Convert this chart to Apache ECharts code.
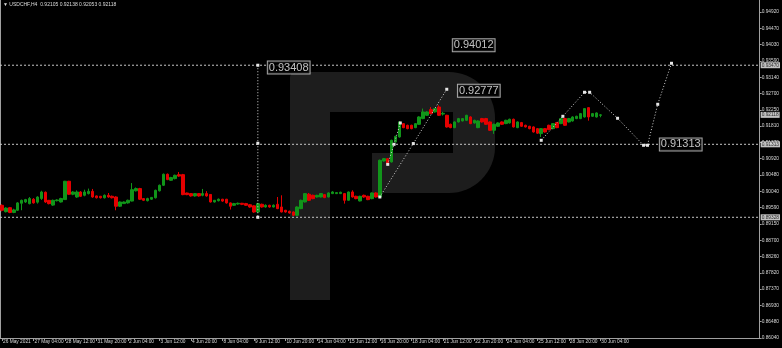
<!DOCTYPE html>
<html><head><meta charset="utf-8">
<script src="https://cdn.jsdelivr.net/npm/echarts@6/dist/echarts.min.js"></script>
<style>html,body{margin:0;padding:0;background:#000;}#c{width:782px;height:348px;}</style>
</head><body><div id="c"></div>
<script>
// ---- tick labels ----
const timeTickLabels = ['26 May 2021','27 May 04:00','28 May 12:00','31 May 20:00','2 Jun 04:00','3 Jun 12:00','4 Jun 20:00','8 Jun 04:00','9 Jun 12:00','10 Jun 20:00','14 Jun 04:00','15 Jun 12:00','16 Jun 20:00','18 Jun 04:00','21 Jun 12:00','22 Jun 20:00','24 Jun 04:00','25 Jun 12:00','28 Jun 20:00','30 Jun 04:00'];
const barsPerTimeTick = 8;
const totalSlots = 193;
const priceTickLabels = ['0.86040','0.86480','0.86930','0.87370','0.87820','0.88260','0.88700','0.89150','0.89590','0.90040','0.90480','0.90920','0.91370','0.91810','0.92250','0.92700','0.93140','0.93590','0.94030','0.94470','0.94920'];
const priceTickBase = 0.86040;
const priceTickStep = 0.00444;
const priceTop = 0.952468;

// ---- candles (H4) ----
const opens = [
0.89655,0.89480,0.89590,0.89460,0.89520,0.89710,0.89745,0.89700,0.89820,0.89740,
0.89840,0.90010,0.89790,0.89660,0.89780,0.89745,0.89810,0.90310,0.89955,0.89881,
0.90017,0.89927,0.89973,0.90035,0.89910,0.89900,0.89860,0.89927,0.89900,0.89881,
0.89630,0.89701,0.89720,0.89770,0.90050,0.90110,0.89837,0.89780,0.89820,0.89860,
0.90050,0.90200,0.90500,0.90336,0.90382,0.90490,0.90490,0.89990,0.89973,0.89910,
0.89973,0.89927,0.89973,0.89950,0.89745,0.89780,0.89820,0.89820,0.89720,0.89655,
0.89690,0.89710,0.89701,0.89670,0.89640,0.89472,0.89682,0.89609,0.89655,0.89609,
0.89682,0.89609,0.89519,0.89491,0.89473,0.89382,0.89564,0.89746,0.89955,0.89927,
0.89881,0.89881,0.89945,0.89881,0.89973,0.89973,0.89973,0.89973,0.89791,0.90018,
0.89900,0.89773,0.89927,0.89900,0.89836,0.89991,0.89881,0.90863,0.90926,0.90835,
0.91380,0.91516,0.91879,0.91834,0.91834,0.91770,0.91861,0.92016,0.92106,0.92261,
0.92197,0.92333,0.92140,0.92106,0.91861,0.91770,0.91925,0.91952,0.91970,0.92061,
0.91897,0.91770,0.92016,0.92016,0.91925,0.91698,0.91807,0.91925,0.91880,0.91898,
0.91998,0.91770,0.91907,0.91834,0.91807,0.91789,0.91743,0.91607,0.91743,0.91834,
0.91743,0.91907,0.91880,0.92016,0.91925,0.91952,0.92016,0.92016,0.92061,0.92315,
0.92079,0.92061,0.92105];
const closes = [
0.89519,0.89580,0.89460,0.89530,0.89720,0.89790,0.89810,0.89840,0.89720,0.89880,
0.90017,0.89745,0.89700,0.89790,0.89800,0.89840,0.90310,0.89955,0.90017,0.90017,
0.89900,0.90017,0.90035,0.89881,0.89860,0.89860,0.89927,0.89881,0.89860,0.89630,
0.89745,0.89745,0.89791,0.90080,0.90110,0.89820,0.89791,0.89837,0.89870,0.90063,
0.90200,0.90500,0.90355,0.90410,0.90472,0.90450,0.89945,0.89945,0.89910,0.89973,
0.89910,0.89973,0.89910,0.89745,0.89791,0.89820,0.89770,0.89720,0.89630,0.89701,
0.89710,0.89680,0.89655,0.89608,0.89472,0.89700,0.89609,0.89655,0.89609,0.89655,
0.89564,0.89473,0.89473,0.89446,0.89382,0.89609,0.89791,0.89973,0.89791,0.89836,
0.89927,0.89973,0.89864,0.89991,0.90018,0.90000,0.90009,0.89791,0.90018,0.89881,
0.89836,0.89900,0.89881,0.89809,0.89991,0.89881,0.90881,0.90926,0.90772,0.91425,
0.91534,0.91925,0.91770,0.91743,0.91743,0.91879,0.92061,0.92197,0.92197,0.92152,
0.92288,0.92106,0.92160,0.91789,0.91770,0.91925,0.92016,0.92016,0.92106,0.91879,
0.91970,0.91952,0.91925,0.91861,0.91698,0.91861,0.91898,0.91861,0.91970,0.91998,
0.91789,0.91925,0.91807,0.91789,0.91743,0.91652,0.91620,0.91743,0.91652,0.91716,
0.91880,0.91770,0.92016,0.91834,0.92016,0.92061,0.92079,0.92152,0.92288,0.92061,
0.92152,0.92170,0.92118];
const lows = [
0.89490,0.89460,0.89440,0.89440,0.89500,0.89520,0.89720,0.89680,0.89700,0.89700,
0.89800,0.89720,0.89680,0.89640,0.89760,0.89730,0.89800,0.89940,0.89930,0.89860,
0.89880,0.89900,0.89950,0.89860,0.89840,0.89840,0.89840,0.89860,0.89840,0.89519,
0.89610,0.89690,0.89700,0.89760,0.90030,0.89800,0.89770,0.89760,0.89800,0.89840,
0.90030,0.90180,0.90340,0.90320,0.90360,0.90430,0.89930,0.89930,0.89890,0.89890,
0.89890,0.89900,0.89890,0.89730,0.89730,0.89760,0.89750,0.89700,0.89540,0.89640,
0.89670,0.89660,0.89640,0.89590,0.89450,0.89450,0.89590,0.89590,0.89590,0.89595,
0.89550,0.89460,0.89455,0.89430,0.89365,0.89365,0.89550,0.89730,0.89780,0.89820,
0.89865,0.89870,0.89850,0.89870,0.89960,0.89960,0.89960,0.89700,0.89780,0.89865,
0.89820,0.89760,0.89860,0.89795,0.89820,0.89865,0.89865,0.90845,0.90755,0.90820,
0.91365,0.91500,0.91755,0.91725,0.91725,0.91755,0.91845,0.92000,0.92090,0.92135,
0.92180,0.92090,0.92100,0.91770,0.91755,0.91755,0.91910,0.91940,0.91955,0.91865,
0.91880,0.91755,0.91910,0.91845,0.91680,0.91600,0.91790,0.91845,0.91865,0.91880,
0.91775,0.91755,0.91790,0.91775,0.91725,0.91635,0.91600,0.91516,0.91635,0.91700,
0.91725,0.91755,0.91865,0.91820,0.91910,0.91935,0.92000,0.92000,0.92045,0.91960,
0.92060,0.92045,0.92053];
const highs = [
0.89680,0.89600,0.89610,0.89560,0.89740,0.89810,0.89830,0.89880,0.89850,0.89900,
0.90050,0.90030,0.89800,0.89810,0.89820,0.89860,0.90320,0.90320,0.90040,0.90060,
0.90040,0.90080,0.90110,0.90100,0.89920,0.89910,0.89950,0.89990,0.89920,0.89900,
0.89760,0.89760,0.89810,0.90260,0.90140,0.90130,0.89850,0.89860,0.89880,0.90080,
0.90220,0.90520,0.90520,0.90430,0.90490,0.90560,0.90510,0.90000,0.89990,0.89990,
0.89990,0.90100,0.90040,0.89960,0.89800,0.89840,0.89830,0.89830,0.89730,0.89720,
0.89730,0.89720,0.89720,0.89690,0.89655,0.89720,0.89700,0.89680,0.89670,0.89680,
0.89881,0.89927,0.89530,0.89510,0.89490,0.89625,0.89810,0.89990,0.89990,0.89945,
0.89940,0.89990,0.89960,0.90010,0.90040,0.90015,0.90025,0.89990,0.90030,0.90063,
0.89915,0.89915,0.89945,0.89915,0.90005,0.90010,0.90900,0.90945,0.90940,0.91440,
0.91550,0.91945,0.91895,0.91850,0.91850,0.91895,0.92080,0.92290,0.92215,0.92330,
0.92300,0.92380,0.92200,0.92120,0.91880,0.91940,0.92035,0.92030,0.92120,0.92080,
0.91985,0.91970,0.92035,0.92035,0.91940,0.91880,0.91915,0.91940,0.91985,0.92015,
0.92015,0.91940,0.91925,0.91850,0.91820,0.91805,0.91760,0.91760,0.91760,0.91850,
0.91895,0.91925,0.92035,0.92035,0.92035,0.92080,0.92095,0.92170,0.92300,0.92330,
0.92170,0.92185,0.92138];

// ---- annotations (bar index, price) ----
const levelValues = [0.93470, 0.91316, 0.89328];
const levelLabels = ['0.93470', '0.91313', '0.89328'];
const lastPrice = 0.92118;
const lastPriceLabel = '0.92118';
const rangeIdx = [65, 65, 65];
const rangeVal = [0.93470, 0.91344, 0.89328];
const impulseIdx = [96, 104.5, 113];
const impulseVal = [0.89881, 0.91336, 0.92815];
const waveIdx = [98, 99.6, 101.2];
const waveVal = [0.90770, 0.91316, 0.91897];
const forecastIdx = [137, 142.5, 148, 149.3, 156.4, 163, 164, 166.6, 170.1];
const forecastVal = [0.91425, 0.92079, 0.92733, 0.92733, 0.92025, 0.91289, 0.91289, 0.92406, 0.93523];
const noteText = ['0.93408', '0.94012', '0.92777', '0.91313'];
const noteIdx = [65, 112, 113.3, 164.6];
const noteVal = [0.93408, 0.94012, 0.92777, 0.91313];
const titleText = '\u25BC USDCHF,H4  0.92105 0.92138 0.92053 0.92118';

// ---- build ----
const categories = [];
for (let i = 0; i < totalSlots; i++) {
  categories.push(i % barsPerTimeTick === 0 && timeTickLabels[i / barsPerTimeTick] ? timeTickLabels[i / barsPerTimeTick] : '');
}
const candleData = opens.map((o, i) => [o, closes[i], lows[i], highs[i]]);
const pairs = (xs, ys) => xs.map((x, i) => [x, ys[i]]);
const tickIdx = priceTickLabels.map((_, i) => i);
const isTimeTick = (i) => i % barsPerTimeTick === 0 && i / barsPerTimeTick < timeTickLabels.length;
const xLeft = -0.5, xRight = totalSlots - 0.5;

const dotted = { color: '#d4d4d4', width: 1, type: [1, 2] };
const levelStyle = { color: '#c8c8c8', width: 1, type: [2, 2] };
const marker = { color: '#e6e6e6' };
const FONT = 'Liberation Sans';

const levelSeries = levelValues.map((v) => ({
  type: 'line', xAxisIndex: 1, yAxisIndex: 0, data: [[xLeft, v], [xRight, v]],
  symbol: 'none', lineStyle: levelStyle, z: 4, silent: true
}));
const tagValues = levelValues.concat([lastPrice]);
const tagTexts = levelLabels.concat([lastPriceLabel]);

const chart = echarts.init(document.getElementById('c'), null, { renderer: 'canvas' });
chart.setOption({
  backgroundColor: '#000',
  animation: false,
  grid: { left: 0, right: 22, top: 0, bottom: 10 },
  xAxis: [{
    type: 'category', data: categories, boundaryGap: true,
    axisLine: { show: true, lineStyle: { color: '#a0a0a0', width: 1 } },
    axisTick: { show: true, alignWithLabel: true, interval: (i) => isTimeTick(i), length: 3, lineStyle: { color: '#a0a0a0' } },
    axisLabel: { interval: (i) => isTimeTick(i), color: '#d8d8d8', fontSize: 4.8, fontFamily: FONT, align: 'left', margin: 1, padding: [0, 0, 0, 1] },
    splitLine: { show: false }
  }, {
    type: 'value', min: xLeft, max: xRight, show: false
  }],
  yAxis: [{
    type: 'value', position: 'right', min: priceTickBase, max: priceTop, show: false
  }, {
    type: 'value', position: 'right', offset: 0, min: 0, max: (priceTop - priceTickBase) / priceTickStep,
    axisLine: { show: true, lineStyle: { color: '#a0a0a0', width: 1 } },
    axisTick: { show: true, length: 2, customValues: tickIdx, lineStyle: { color: '#a0a0a0' } },
    axisLabel: { show: true, customValues: tickIdx, color: '#d8d8d8', fontSize: 4.8, fontFamily: FONT, margin: 2,
      formatter: (v) => (Number.isInteger(v) && priceTickLabels[v]) ? priceTickLabels[v] : '' },
    splitLine: { show: false }
  }],
  graphic: [
    { type: 'group', z: -10, silent: true, children: [
      { type: 'rect', shape: { x: 290, y: 72, width: 205, height: 121, r: [6, 46, 46, 0] }, style: { fill: '#1d1d1d' } },
      { type: 'rect', shape: { x: 290, y: 72, width: 40, height: 228, r: [6, 0, 0, 0] }, style: { fill: '#1d1d1d' } },
      { type: 'rect', shape: { x: 330, y: 112, width: 123, height: 41 }, style: { fill: '#000' } },
      { type: 'rect', shape: { x: 330, y: 153, width: 42, height: 40 }, style: { fill: '#000' } }
    ]},
    { type: 'line', shape: { x1: 0.5, y1: 0, x2: 0.5, y2: 338 }, style: { stroke: '#a0a0a0', lineWidth: 1 }, silent: true },
    { type: 'text', left: 3, top: 2, style: { text: titleText, fill: '#dcdcdc', font: '5px "Liberation Sans", "DejaVu Sans"' }, silent: true }
  ],
  series: [{
    type: 'candlestick', name: 'USDCHF', xAxisIndex: 0, yAxisIndex: 0,
    data: candleData, barWidth: 3,
    itemStyle: { color: '#11951a', color0: '#e50000', borderColor: '#11951a', borderColor0: '#e50000', borderWidth: 1 }
  }].concat(levelSeries).concat([{
    type: 'line', xAxisIndex: 1, yAxisIndex: 0, data: pairs(rangeIdx, rangeVal),
    symbol: 'rect', symbolSize: 3, itemStyle: marker, lineStyle: dotted, z: 5
  }, {
    type: 'line', xAxisIndex: 1, yAxisIndex: 0, data: pairs(impulseIdx, impulseVal),
    symbol: 'rect', symbolSize: 3, itemStyle: marker, lineStyle: dotted, z: 5
  }, {
    type: 'line', xAxisIndex: 1, yAxisIndex: 0, data: pairs(waveIdx, waveVal),
    symbol: 'rect', symbolSize: 3, itemStyle: marker, lineStyle: dotted, z: 5
  }, {
    type: 'line', xAxisIndex: 1, yAxisIndex: 0, data: pairs(forecastIdx, forecastVal),
    symbol: 'rect', symbolSize: 3, itemStyle: marker, lineStyle: dotted, z: 5
  }, {
    type: 'scatter', xAxisIndex: 1, yAxisIndex: 0, data: pairs(noteIdx, noteVal), symbolSize: 0, z: 6,
    label: { show: true, position: 'right', distance: 10, formatter: (p) => noteText[p.dataIndex],
      color: '#f0f0f0', fontSize: 11, fontFamily: FONT, backgroundColor: '#000', borderColor: '#cfcfcf', borderWidth: 1, padding: [1, 1, 0, 1] }
  }, {
    type: 'scatter', xAxisIndex: 1, yAxisIndex: 0, data: tagValues.map((v) => [xRight, v]), symbolSize: 0, z: 7, clip: false,
    label: { show: true, position: 'right', distance: 1, formatter: (p) => tagTexts[p.dataIndex],
      color: '#000', backgroundColor: '#f2f2f2', fontSize: 4.8, fontFamily: FONT, padding: [1, 1, 0, 1] }
  }])
});
</script></body></html>
